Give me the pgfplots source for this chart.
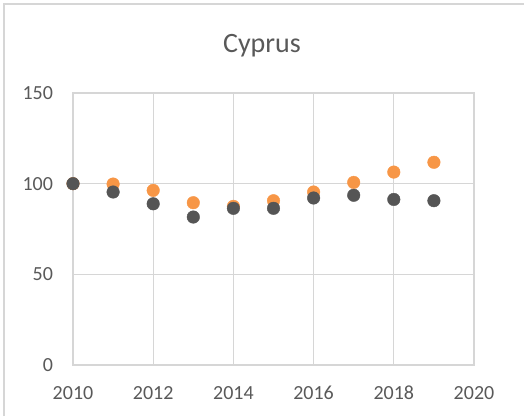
\documentclass[border=0pt]{standalone}
\usepackage{fontspec}
\setmainfont{Carlito}
\usepackage{pgfplots}
\pgfplotsset{compat=1.18}
\definecolor{gridc}{HTML}{D6D6D6}
\definecolor{txt}{HTML}{595959}
\definecolor{org}{HTML}{F79646}
\definecolor{dk}{HTML}{555555}
\begin{document}
\begin{tikzpicture}[x=1pt,y=1pt]
\path[use as bounding box] (0,0) rectangle (524,416);
\draw[gridc, line width=1.3pt] (4,0) -- (4,412) -- (524,412);
\node[txt, font=\fontsize{28}{30}\selectfont, anchor=base, inner sep=0pt] at (262,363) {Cyprus};
\begin{axis}[at={(73pt,51pt)}, anchor=south west, scale only axis,
  width=401pt, height=272pt,
  xmin=2010, xmax=2020, ymin=0, ymax=150,
  xtick={2010,2012,...,2020}, ytick={0,50,100,150},
  grid=major, grid style={gridc, line width=1.3pt},
  axis line style={gridc, line width=1.3pt},
  tick style={draw=none},
  ticklabel style={txt, font=\fontsize{20}{22}\selectfont},
  /pgf/number format/assume math mode=true,
  /pgf/number format/1000 sep={},
  xticklabel style={yshift=-17.5pt},
  yticklabel style={xshift=-16.5pt},
  clip=false]
\addplot[only marks, mark=*, mark size=6.3pt, color=org, mark options={draw=none, fill=org}] coordinates {
(2010,100) (2011,99.8) (2012,96.3) (2013,89.5) (2014,87.5) (2015,90.6) (2016,95.4) (2017,100.7) (2018,106.4) (2019,111.8)};
\addplot[only marks, mark=*, mark size=6.3pt, color=dk, mark options={draw=none, fill=dk}] coordinates {
(2010,100) (2011,95.4) (2012,88.9) (2013,81.6) (2014,86.4) (2015,86.4) (2016,92.1) (2017,93.6) (2018,91.3) (2019,90.6)};
\end{axis}
\end{tikzpicture}
\end{document}
